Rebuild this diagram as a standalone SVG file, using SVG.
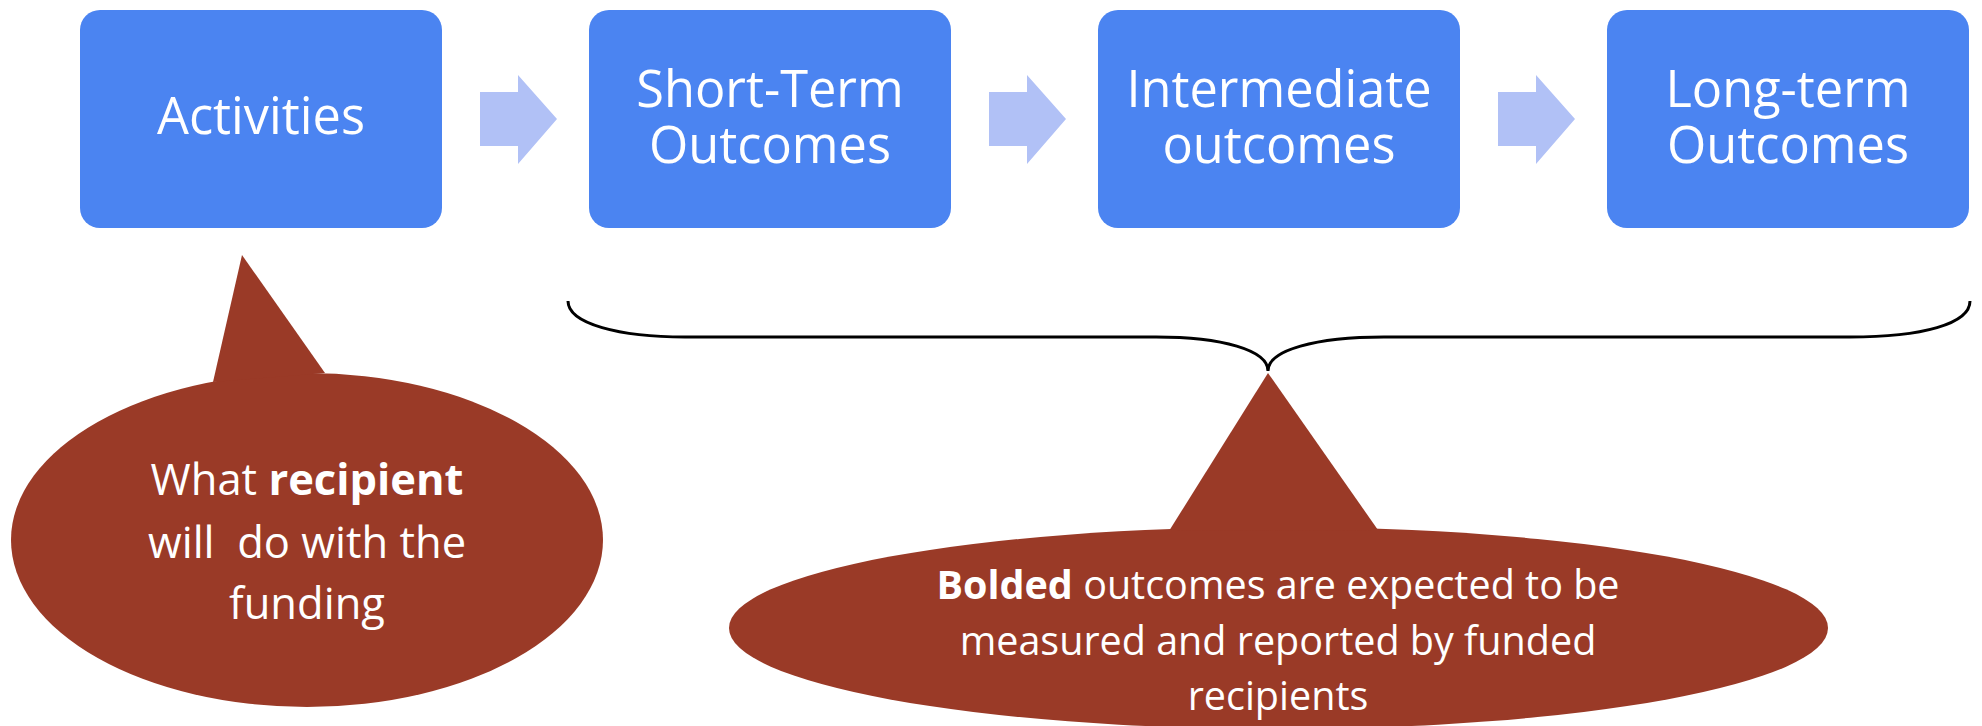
<svg xmlns="http://www.w3.org/2000/svg" width="1982" height="726" viewBox="0 0 1982 726">
<style>
.box{fill:#4B84F1;}
.arr{fill:#B1C1F6;}
.call{fill:#9A3A27;}
.bt{font-family:"Open Sans","Liberation Sans",sans-serif;font-size:50.5px;fill:#FFFFFF;text-anchor:middle;}
.ct{font-family:"Open Sans","Liberation Sans",sans-serif;fill:#FFFFFF;text-anchor:middle;}
.b{font-weight:bold;}
</style>
<rect width="1982" height="726" fill="#FFFFFF"/>
<g id="connectors">
<polygon class="arr" points="480,92 518,92 518,75 557,119 518,164 518,146 480,146"/>
<polygon class="arr" points="989,92 1027,92 1027,75 1066,119 1027,164 1027,146 989,146"/>
<polygon class="arr" points="1498,92 1536,92 1536,75 1575,119 1536,164 1536,146 1498,146"/>
<path d="M568,301 C568,324 620,337 685,337 L1156,337 C1222,337 1268,350 1268,371 C1268,350 1316,337 1384,337 L1850,337 C1922,337 1970,324 1970,301" fill="none" stroke="#000000" stroke-width="3"/>
</g>
<g id="activities">
<rect class="box" x="80" y="10" width="362" height="218" rx="20"/>
<text class="bt" x="261" y="134">Activities</text>
</g>
<g id="short-term">
<rect class="box" x="589" y="10" width="362" height="218" rx="20"/>
<text class="bt" x="770" y="107">Short-Term<tspan x="770" y="163">Outcomes</tspan></text>
</g>
<g id="intermediate">
<rect class="box" x="1098" y="10" width="362" height="218" rx="20"/>
<text class="bt" x="1279" y="107">Intermediate<tspan x="1279" y="163">outcomes</tspan></text>
</g>
<g id="long-term">
<rect class="box" x="1607" y="10" width="362" height="218" rx="20"/>
<text class="bt" x="1788" y="107">Long-term<tspan x="1788" y="163">Outcomes</tspan></text>
</g>
<g id="callout-activities">
<ellipse class="call" cx="307" cy="540" rx="296" ry="167"/>
<polygon class="call" points="242,255 325,373 213,382"/>
<text class="ct" font-size="43.5" x="307" y="495">What <tspan class="b">recipient</tspan></text>
<text class="ct" font-size="43.5" x="307" y="558" xml:space="preserve">will  do with the</text>
<text class="ct" font-size="43.5" x="307" y="619">funding</text>
</g>
<g id="callout-outcomes">
<ellipse class="call" cx="1278.5" cy="628" rx="549.5" ry="101"/>
<polygon class="call" points="1268,373 1378,530 1169,531"/>
<text class="ct" font-size="39.5" x="1278" y="599"><tspan class="b">Bolded</tspan> outcomes are expected to be</text>
<text class="ct" font-size="39.5" x="1278" y="655">measured and reported by funded</text>
<text class="ct" font-size="39.5" x="1278" y="710">recipients</text>
</g>
</svg>
